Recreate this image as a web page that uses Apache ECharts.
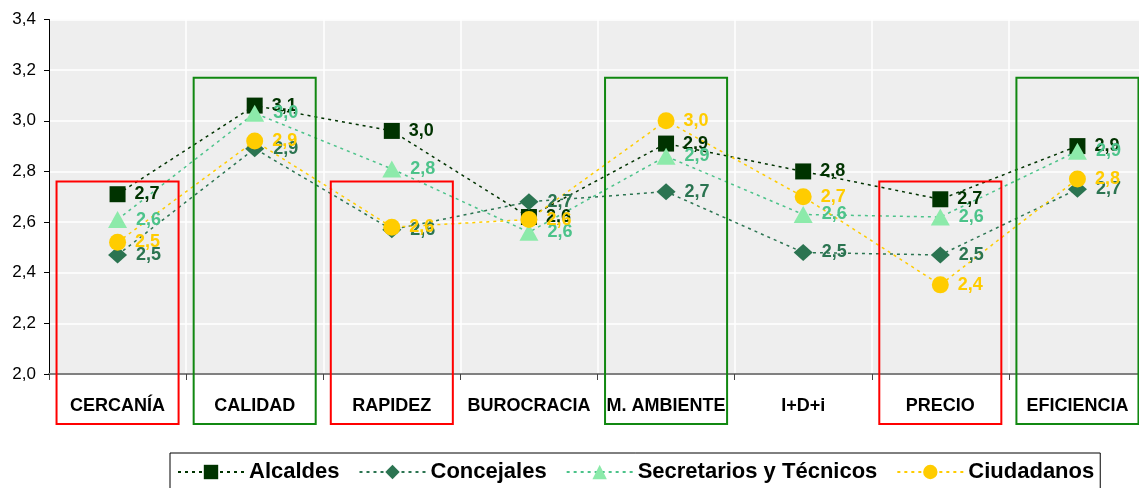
<!DOCTYPE html>
<html>
<head>
<meta charset="utf-8">
<script src="https://cdn.jsdelivr.net/npm/echarts@6/dist/echarts.min.js"></script>
<style>
html,body{margin:0;padding:0;background:#fff;overflow:hidden;width:1139px;height:488px;}
#c{width:1146px;height:488px;}
</style>
</head>
<body>
<div id="c"></div>
<script>
const categories = ['CERCANÍA','CALIDAD','RAPIDEZ','BUROCRACIA','M. AMBIENTE','I+D+i','PRECIO','EFICIENCIA'];
const alcaldes     = [2.71, 3.06, 2.96, 2.62, 2.91, 2.80, 2.69, 2.90];
const concejales   = [2.47, 2.89, 2.57, 2.68, 2.72, 2.48, 2.47, 2.73];
const secretarios  = [2.61, 3.03, 2.81, 2.56, 2.86, 2.63, 2.62, 2.88];
const ciudadanos   = [2.52, 2.92, 2.58, 2.61, 3.00, 2.70, 2.352, 2.77];
const yTicks = {min: 2.0, max: 3.4, step: 0.2};
// highlighted categories: red boxes (low), green boxes (high)
const redBoxes = ['CERCANÍA','RAPIDEZ','PRECIO'];
const greenBoxes = ['CALIDAD','M. AMBIENTE','EFICIENCIA'];
const redTop = 2.76, greenTop = 3.17;

const FONT = 'Liberation Sans, Arial, sans-serif';
const fmt = v => Number(v).toFixed(1).replace('.', ',');

function mkSeries(name, data, symbol, size, markerColor, lineColor, labelColor) {
  return {
    name, type: 'line', data, symbol, symbolSize: size,
    itemStyle: {color: markerColor},
    lineStyle: {color: lineColor, width: 1.5, type: [3, 4]},
    label: {show: true, position: 'right', distance: 9, formatter: p => fmt(p.value),
      color: labelColor, fontFamily: FONT, fontWeight: 'bold', fontSize: 18},
    emphasis: {disabled: true},
    animation: false
  };
}

const chart = echarts.init(document.getElementById('c'), null, {renderer: 'canvas'});
chart.setOption({
  animation: false,
  grid: {left: 49, top: 19.5, right: 0, bottom: 114, show: true, backgroundColor: '#EEEEEE', borderWidth: 0, containLabel: false},
  legend: {
    left: 170, top: 453, padding: [8, 6, 12, 7],
    borderColor: '#000', borderWidth: 1, backgroundColor: '#fff',
    itemWidth: 66, itemHeight: 18, itemGap: 19,
    textStyle: {fontFamily: FONT, fontWeight: 'bold', fontSize: 22, color: '#000'},
    data: ['Alcaldes','Concejales','Secretarios y Técnicos','Ciudadanos']
  },
  xAxis: {
    type: 'category', data: categories, boundaryGap: true,
    axisLine: {onZero: false, lineStyle: {color: '#808080', width: 2}},
    axisTick: {show: true, length: 6, lineStyle: {color: '#444', width: 1}},
    axisLabel: {margin: 23, color: '#000', fontFamily: FONT, fontWeight: 'bold', fontSize: 18, interval: 0},
    splitLine: {show: true, lineStyle: {color: '#fff', width: 1.5}}
  },
  yAxis: {
    type: 'value', min: yTicks.min, max: yTicks.max, interval: yTicks.step,
    axisLine: {show: true, lineStyle: {color: '#000', width: 1}},
    axisTick: {show: true, length: 5, lineStyle: {color: '#000'}},
    axisLabel: {margin: 13, color: '#000', fontFamily: FONT, fontSize: 17, formatter: v => fmt(v)},
    splitLine: {show: true, lineStyle: {color: '#fff', width: 1.5}}
  },
  series: [
    mkSeries('Alcaldes', alcaldes, 'rect', 16, '#003300', '#003300', '#003300'),
    mkSeries('Concejales', concejales, 'diamond', [19, 17], '#2B7451', '#2B7451', '#2B7451'),
    mkSeries('Secretarios y Técnicos', secretarios, 'triangle', [19, 17], '#8CEAAA', '#4CC38A', '#4CC38A'),
    mkSeries('Ciudadanos', ciudadanos, 'circle', 17, '#FFCC00', '#FFCC00', '#FFCC00')
  ]
});

// annotation boxes positioned through the chart's own scales
function boxes() {
  const els = [];
  const p0 = chart.convertToPixel({gridIndex: 0}, [0, yTicks.min]);
  const p1 = chart.convertToPixel({gridIndex: 0}, [1, yTicks.min]);
  const bw = (p1[0] - p0[0]) * 0.89;
  const bottom = p0[1] + 50;
  function add(names, top, color) {
    names.forEach(n => {
      const i = categories.indexOf(n);
      const c = chart.convertToPixel({gridIndex: 0}, [i, top]);
      els.push({type: 'rect', z: 100, silent: true,
        shape: {x: c[0] - bw / 2, y: c[1], width: bw, height: bottom - c[1]},
        style: {fill: 'none', stroke: color, lineWidth: 2}});
    });
  }
  add(redBoxes, redTop, '#FF0000');
  add(greenBoxes, greenTop, '#118811');
  chart.setOption({graphic: els});
}
boxes();
</script>
</body>
</html>
